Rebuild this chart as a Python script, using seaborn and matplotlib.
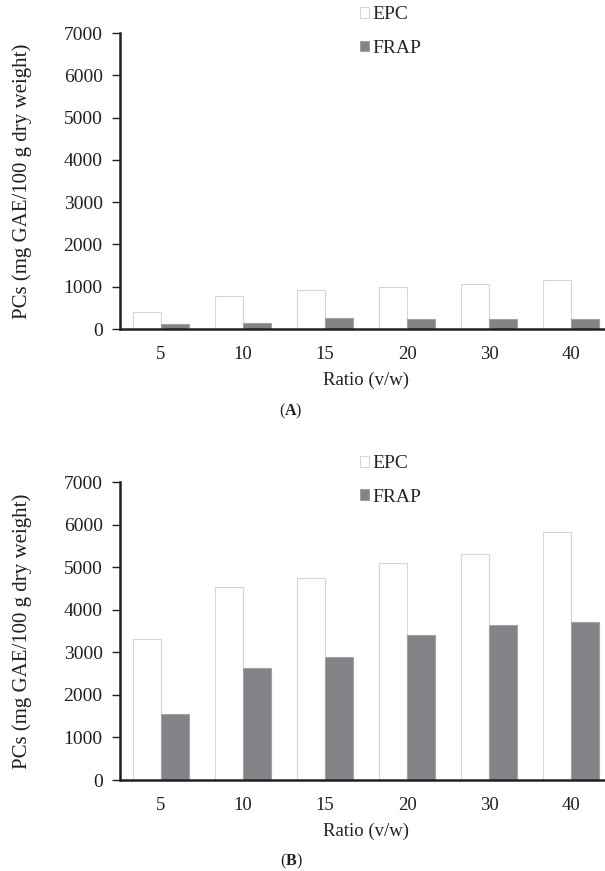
import matplotlib
matplotlib.use('Agg')
import matplotlib.pyplot as plt
import seaborn as sns
import pandas as pd
from matplotlib.patches import Patch

# ---- data ----
ratios = ['5', '10', '15', '20', '30', '40']
series = ['EPC', 'FRAP']
epc_a = [395, 790, 920, 995, 1065, 1160]
frap_a = [125, 142, 260, 245, 243, 236]
epc_b = [3310, 4540, 4750, 5100, 5300, 5830]
frap_b = [1560, 2630, 2900, 3405, 3640, 3715]
yticks = [0, 1000, 2000, 3000, 4000, 5000, 6000, 7000]
ylabel = 'PCs (mg GAE/100 g dry weight)'
xlabel = 'Ratio (v/w)'
captions = ['A', 'B']

sns.set_theme(style='white')
plt.rcParams['font.family'] = ['Liberation Serif', 'DejaVu Serif']
plt.rcParams['mathtext.fontset'] = 'custom'
plt.rcParams['mathtext.rm'] = 'Liberation Serif'
plt.rcParams['mathtext.bf'] = 'Liberation Serif:bold'

W, H = 605, 871
fig = plt.figure(figsize=(W / 100, H / 100), dpi=100)

face = {'EPC': '#ffffff', 'FRAP': '#838387'}
edge = {'EPC': '#d6d6d6', 'FRAP': '#a2a2a4'}
axcol = '#231f20'

panels = [
    dict(epc=epc_a, frap=frap_a, top=33, bottom=329, leg=(0.488, 1.09), cap_y=411, cap_x=291),
    dict(epc=epc_b, frap=frap_b, top=482, bottom=780, leg=(0.488, 1.09), cap_y=861, cap_x=291),
]

for p, cap in zip(panels, captions):
    df = pd.DataFrame({
        'Ratio': ratios * 2,
        'Series': ['EPC'] * len(ratios) + ['FRAP'] * len(ratios),
        'Value': p['epc'] + p['frap'],
    })
    hpx = p['bottom'] - p['top']
    ax = fig.add_axes([120 / W, 1 - p['bottom'] / H, 492 / W, hpx / H])
    sns.barplot(data=df, x='Ratio', y='Value', hue='Series', order=ratios, hue_order=series,
                palette=face, width=0.69, ax=ax, legend=False, errorbar=None, saturation=1)
    for cont, s in zip(ax.containers, series):
        for bar in cont:
            bar.set_edgecolor(edge[s])
            bar.set_linewidth(0.8)
    ax.set_xlim(-0.5, 5.5)
    ax.set_ylim(0, 7000)
    ax.set_yticks(yticks)
    ax.set_yticklabels([str(t) for t in yticks], fontsize=14, color=axcol)
    ax.tick_params(axis='y', direction='out', length=6, width=1, color=axcol, left=True, pad=6.5)
    ax.tick_params(axis='x', length=0, labelsize=13.5, labelcolor=axcol, pad=12)
    for side in ['top', 'right']:
        ax.spines[side].set_visible(False)
    for side in ['left', 'bottom']:
        ax.spines[side].set_color(axcol)
        ax.spines[side].set_linewidth(1.8)
    ax.set_xlabel(xlabel, fontsize=13.5, color=axcol)
    ax.xaxis.set_label_coords(0.5, -43 / hpx)
    ax.set_ylabel(ylabel, fontsize=15, color=axcol)
    ax.yaxis.set_label_coords(-(120 - 32) / 492, 0.5)
    handles = [Patch(facecolor=face[s], edgecolor=edge[s], linewidth=0.8, label=s) for s in series]
    ax.legend(handles=handles, loc='upper left', bbox_to_anchor=p['leg'], frameon=False,
              fontsize=14, handlelength=0.47, handleheight=0.47, handletextpad=0.15,
              labelspacing=0.85, borderpad=0, borderaxespad=0)
    fig.text(p['cap_x'] / W, 1 - p['cap_y'] / H, r'($\mathbf{%s}$)' % cap, fontsize=11.5,
             ha='center', va='center', color=axcol)

fig.savefig('out.png', dpi=100)
